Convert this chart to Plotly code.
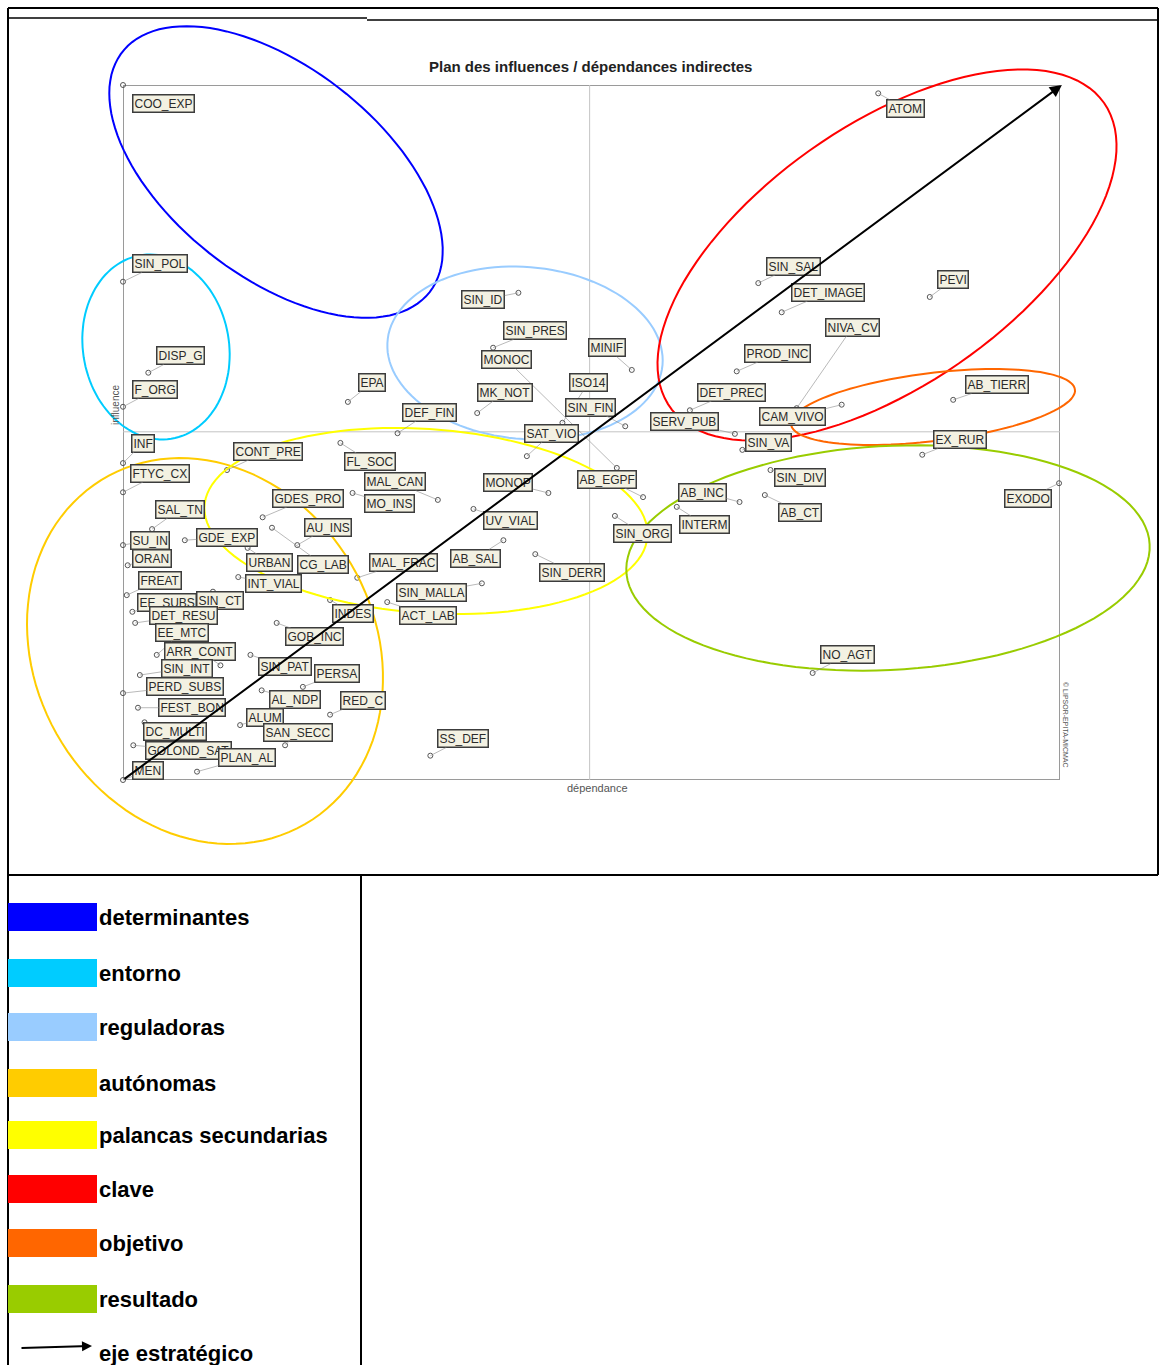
import numpy as np
import plotly.graph_objects as go

# variables du plan influence / dependance indirectes (echelle 0-100)
variables = [
    "COO_EXP", "SIN_POL", "DISP_G", "F_ORG", "EPA", "INF", "FTYC_CX", "CONT_PRE",
    "FL_SOC", "DEF_FIN", "SAL_TN", "SU_IN", "GDE_EXP", "ORAN", "FREAT", "GDES_PRO",
    "AU_INS", "CG_LAB", "URBAN", "INT_VIAL", "EE_SUBS", "SIN_CT", "DET_RESU", "EE_MTC",
    "ARR_CONT", "SIN_INT", "SIN_PAT", "PERSA", "PERD_SUBS", "FEST_BON", "GOB_INC", "INDES",
    "AL_NDP", "RED_C", "ALUM", "SAN_SECC", "DC_MULTI", "GOLOND_SAT", "PLAN_AL", "MEN",
    "SS_DEF", "NO_AGT", "EXODO", "EX_RUR", "AB_TIERR", "ATOM", "SIN_SAL", "DET_IMAGE",
    "PEVI", "NIVA_CV", "CAM_VIVO", "PROD_INC", "DET_PREC", "SERV_PUB", "SIN_VA", "SIN_DIV",
    "AB_CT", "AB_INC", "INTERM", "SIN_ORG", "AB_EGPF", "SIN_DERR", "UV_VIAL", "MONOP",
    "AB_SAL", "SIN_MALLA", "ACT_LAB", "MAL_CAN", "MO_INS", "MAL_FRAC", "SIN_ID", "SIN_PRES",
    "MONOC", "MINIF", "ISO14", "MK_NOT", "SIN_FIN", "SAT_VIO",
]
dependance = [
    0.0, 0.0, 2.7, 0.0, 24.0, 0.0, 0.0, 11.1,
    23.2, 29.3, 3.1, 0.0, 6.6, 0.5, 0.4, 14.9,
    18.6, 15.9, 13.3, 12.3, 1.0, 9.6, 1.3, 3.6,
    10.4, 1.8, 13.6, 19.2, 0.0, 1.6, 16.4, 22.1,
    14.8, 22.1, 12.5, 17.3, 2.3, 1.1, 7.9, 0.0,
    32.8, 73.6, 99.9, 85.3, 88.6, 80.6, 67.8, 70.3,
    86.1, 71.9, 76.7, 65.5, 60.5, 65.3, 66.1, 69.1,
    68.5, 65.8, 59.1, 52.5, 55.5, 44.0, 37.4, 45.4,
    40.6, 38.3, 28.2, 33.6, 24.5, 25.0, 42.2, 39.5,
    52.7, 54.3, 46.9, 37.8, 53.6, 43.1,
]
influence = [
    100.0, 71.7, 58.6, 53.7, 54.4, 45.6, 41.4, 44.6,
    48.5, 49.9, 36.1, 33.8, 34.5, 30.9, 26.6, 37.8,
    33.8, 36.3, 33.4, 29.2, 24.2, 27.1, 22.6, 18.0,
    16.5, 15.1, 18.0, 13.4, 12.5, 10.4, 22.6, 25.9,
    12.9, 9.4, 7.9, 5.0, 8.3, 5.0, 1.2, 0.0,
    3.5, 15.4, 42.7, 46.8, 54.7, 98.8, 71.5, 67.3,
    69.5, 53.5, 54.0, 58.8, 53.2, 49.8, 47.5, 44.6,
    41.0, 40.0, 39.3, 38.0, 40.7, 32.5, 39.0, 41.3,
    34.5, 28.3, 25.6, 40.3, 41.3, 29.1, 70.1, 62.2,
    44.9, 59.0, 51.4, 52.8, 50.9, 46.6,
]

legend_labels = ["determinantes", "entorno", "reguladoras", "autónomas",
                 "palancas secundarias", "clave", "objetivo", "resultado"]
legend_colors = ["#0000ff", "#00ccff", "#99ccff", "#ffcc00",
                 "#ffff00", "#ff0000", "#ff6600", "#99cc00"]

# decalage des etiquettes (pixels)
label_offsets = [
    (40, 18), (37, -18), (32, -17), (32, -17), (24, -19), (20, -20), (37, -19), (41, -19),
    (30, 19), (32, -21), (28, -20), (27, -5), (42, -3), (24, -7), (33, -15), (45, -19),
    (31, -18), (51, 37), (22, 15), (35, 6), (35, -9), (7, 9), (48, -7), (25, -22),
    (-20, -14), (47, -7), (35, 12), (34, -13), (62, -7), (54, 0), (38, 14), (23, 13),
    (33, 9), (33, -14), (25, -8), (13, -13), (30, 9), (55, 5), (50, -14), (25, -10),
    (33, -17), (35, -18), (-31, 15), (38, -15), (44, -15), (27, 15), (35, -17), (46, -20),
    (23, -17), (56, -81), (-49, 12), (41, -18), (42, -18), (-50, -12), (26, -7), (30, 7),
    (35, 17), (-37, -10), (28, 18), (28, 18), (-36, -18), (37, 18), (37, 12), (-40, -10),
    (-28, 18), (-50, 9), (41, 13), (-43, -18), (37, 11), (46, -15), (-35, 7), (42, -17),
    (-110, -108), (-25, -22), (26, -40), (28, -21), (-35, -19), (25, -23),
]

W, H = 1160, 1365


def ellipse_path(cx, cy, a, b, deg, n=120):
    t = np.linspace(0, 2 * np.pi, n)
    th = np.radians(deg)
    xs = cx + a * np.cos(t) * np.cos(th) - b * np.sin(t) * np.sin(th)
    ys = cy + a * np.cos(t) * np.sin(th) + b * np.sin(t) * np.cos(th)
    pts = [f"{x:.1f},{y:.1f}" for x, y in zip(xs, ys)]
    return "M " + " L ".join(pts) + " Z"


fig = go.Figure()

fig.add_trace(go.Scatter(
    x=dependance, y=influence, mode="markers",
    marker=dict(symbol="circle-open", size=5, color="#555555", line=dict(width=1)),
    cliponaxis=False, hoverinfo="text", text=variables, showlegend=False,
))
# axe de dessin en pixels pour le cadre et la legende
fig.add_trace(go.Scatter(x=[0], y=[0], xaxis="x2", yaxis="y2", mode="markers",
                         marker=dict(opacity=0), showlegend=False, hoverinfo="skip"))

shapes = []
line_k = dict(color="black", width=2)
# cadre du document
shapes += [
    dict(type="line", xref="x2", yref="y2", x0=8, y0=8, x1=1158, y1=8, line=line_k),
    dict(type="line", xref="x2", yref="y2", x0=8, y0=18, x1=367, y1=18, line=dict(color="black", width=1.5)),
    dict(type="line", xref="x2", yref="y2", x0=367, y0=20, x1=1158, y1=20, line=dict(color="black", width=1.5)),
    dict(type="line", xref="x2", yref="y2", x0=8, y0=8, x1=8, y1=H, line=line_k),
    dict(type="line", xref="x2", yref="y2", x0=1158, y0=8, x1=1158, y1=875, line=line_k),
    dict(type="line", xref="x2", yref="y2", x0=8, y0=875, x1=1158, y1=875, line=line_k),
    dict(type="line", xref="x2", yref="y2", x0=361, y0=875, x1=361, y1=H, line=line_k),
]
# cadre du plan et axes moyens
shapes += [
    dict(type="rect", xref="x", yref="y", x0=0, y0=0, x1=100, y1=100,
         line=dict(color="#9a9a9a", width=2), layer="below"),
    dict(type="line", xref="x", yref="y", x0=49.8, y0=0, x1=49.8, y1=100,
         line=dict(color="#c4c4c4", width=1), layer="below"),
    dict(type="line", xref="x", yref="y", x0=0, y0=50.1, x1=100, y1=50.1,
         line=dict(color="#c4c4c4", width=1), layer="below"),
]
# ellipses des groupes
ellipses = [
    (276, 172, 195, 105, 38, "#0000ff"),
    (156, 347, 73, 93, -10, "#00ccff"),
    (525, 353, 138, 86, 5, "#99ccff"),
    (205, 651, 200, 170, 60, "#ffcc00"),
    (426, 521, 222, 92, 4, "#ffff00"),
    (887, 255, 265, 130, -35, "#ff0000"),
    (933, 407, 143, 34, -7, "#ff6600"),
    (888, 558, 262, 112, -3, "#99cc00"),
]
for cx, cy, a, b, deg, col in ellipses:
    shapes.append(dict(type="path", xref="x2", yref="y2", path=ellipse_path(cx, cy, a, b, deg),
                       line=dict(color=col, width=2)))
# pastilles de legende
legend_y = [903, 959, 1013, 1069, 1121, 1175, 1229, 1285]
for y0, col in zip(legend_y, legend_colors):
    shapes.append(dict(type="rect", xref="x2", yref="y2", x0=8, y0=y0, x1=97, y1=y0 + 28,
                       fillcolor=col, line=dict(width=0)))

annotations = []
for name, xv, yv, (dx, dy) in zip(variables, dependance, influence, label_offsets):
    annotations.append(dict(
        x=xv, y=yv, xref="x", yref="y", text=name, showarrow=True,
        ax=dx, ay=dy, arrowhead=0, arrowwidth=0.6, arrowcolor="#8a8a8a",
        font=dict(family="Liberation Sans", size=12, color="#2a2a2a"),
        bgcolor="#f3f1e2", bordercolor="#3c3c3c", borderwidth=1.5, borderpad=1,
    ))

for lab, y0 in zip(legend_labels, legend_y):
    annotations.append(dict(x=97, y=y0 + 14, xref="x2", yref="y2", text=f"<b>{lab}</b>",
                            showarrow=False, xanchor="left", yanchor="middle",
                            font=dict(family="Liberation Sans", size=22, color="black")))
annotations.append(dict(x=97, y=1353, xref="x2", yref="y2", text="<b>eje estratégico</b>",
                        showarrow=False, xanchor="left", yanchor="middle",
                        font=dict(family="Liberation Sans", size=22, color="black")))
annotations.append(dict(x=92, y=1346, ax=20, ay=1348, xref="x2", yref="y2", axref="x2", ayref="y2",
                        text="", showarrow=True, arrowhead=2, arrowsize=1, arrowwidth=2,
                        arrowcolor="black"))
# axe strategique
annotations.append(dict(x=100.2, y=100, ax=0, ay=0, xref="x", yref="y", axref="x", ayref="y",
                        text="", showarrow=True, arrowhead=2, arrowsize=1.2, arrowwidth=2,
                        arrowcolor="black"))
# titres
annotations += [
    dict(x=590, y=66, xref="x2", yref="y2", text="<b>Plan des influences / dépendances indirectes</b>",
         showarrow=False, font=dict(family="Liberation Sans", size=15, color="#222")),
    dict(x=597, y=788, xref="x2", yref="y2", text="dépendance", showarrow=False,
         font=dict(family="Liberation Sans", size=11, color="#555")),
    dict(x=115, y=405, xref="x2", yref="y2", text="influence", showarrow=False, textangle=-90,
         font=dict(family="Liberation Sans", size=10, color="#555")),
    dict(x=1066, y=725, xref="x2", yref="y2", text="© LIPSOR-EPITA-MICMAC", showarrow=False,
         textangle=90, font=dict(family="Liberation Sans", size=7, color="#555")),
]

fig.update_layout(
    width=W, height=H,
    margin=dict(l=0, r=0, t=0, b=0),
    paper_bgcolor="white", plot_bgcolor="rgba(0,0,0,0)",
    xaxis=dict(domain=[123 / W, 1060 / W], range=[0, 100], visible=False, anchor="y"),
    yaxis=dict(domain=[(H - 780) / H, (H - 85) / H], range=[0, 100], visible=False, anchor="x"),
    xaxis2=dict(domain=[0, 1], range=[0, W], visible=False, anchor="y2"),
    yaxis2=dict(domain=[0, 1], range=[H, 0], visible=False, anchor="x2"),
    shapes=shapes,
    annotations=annotations,
)

fig.write_html("out.html", config={"displayModeBar": False},
               post_script="document.body.style.margin='0';")
